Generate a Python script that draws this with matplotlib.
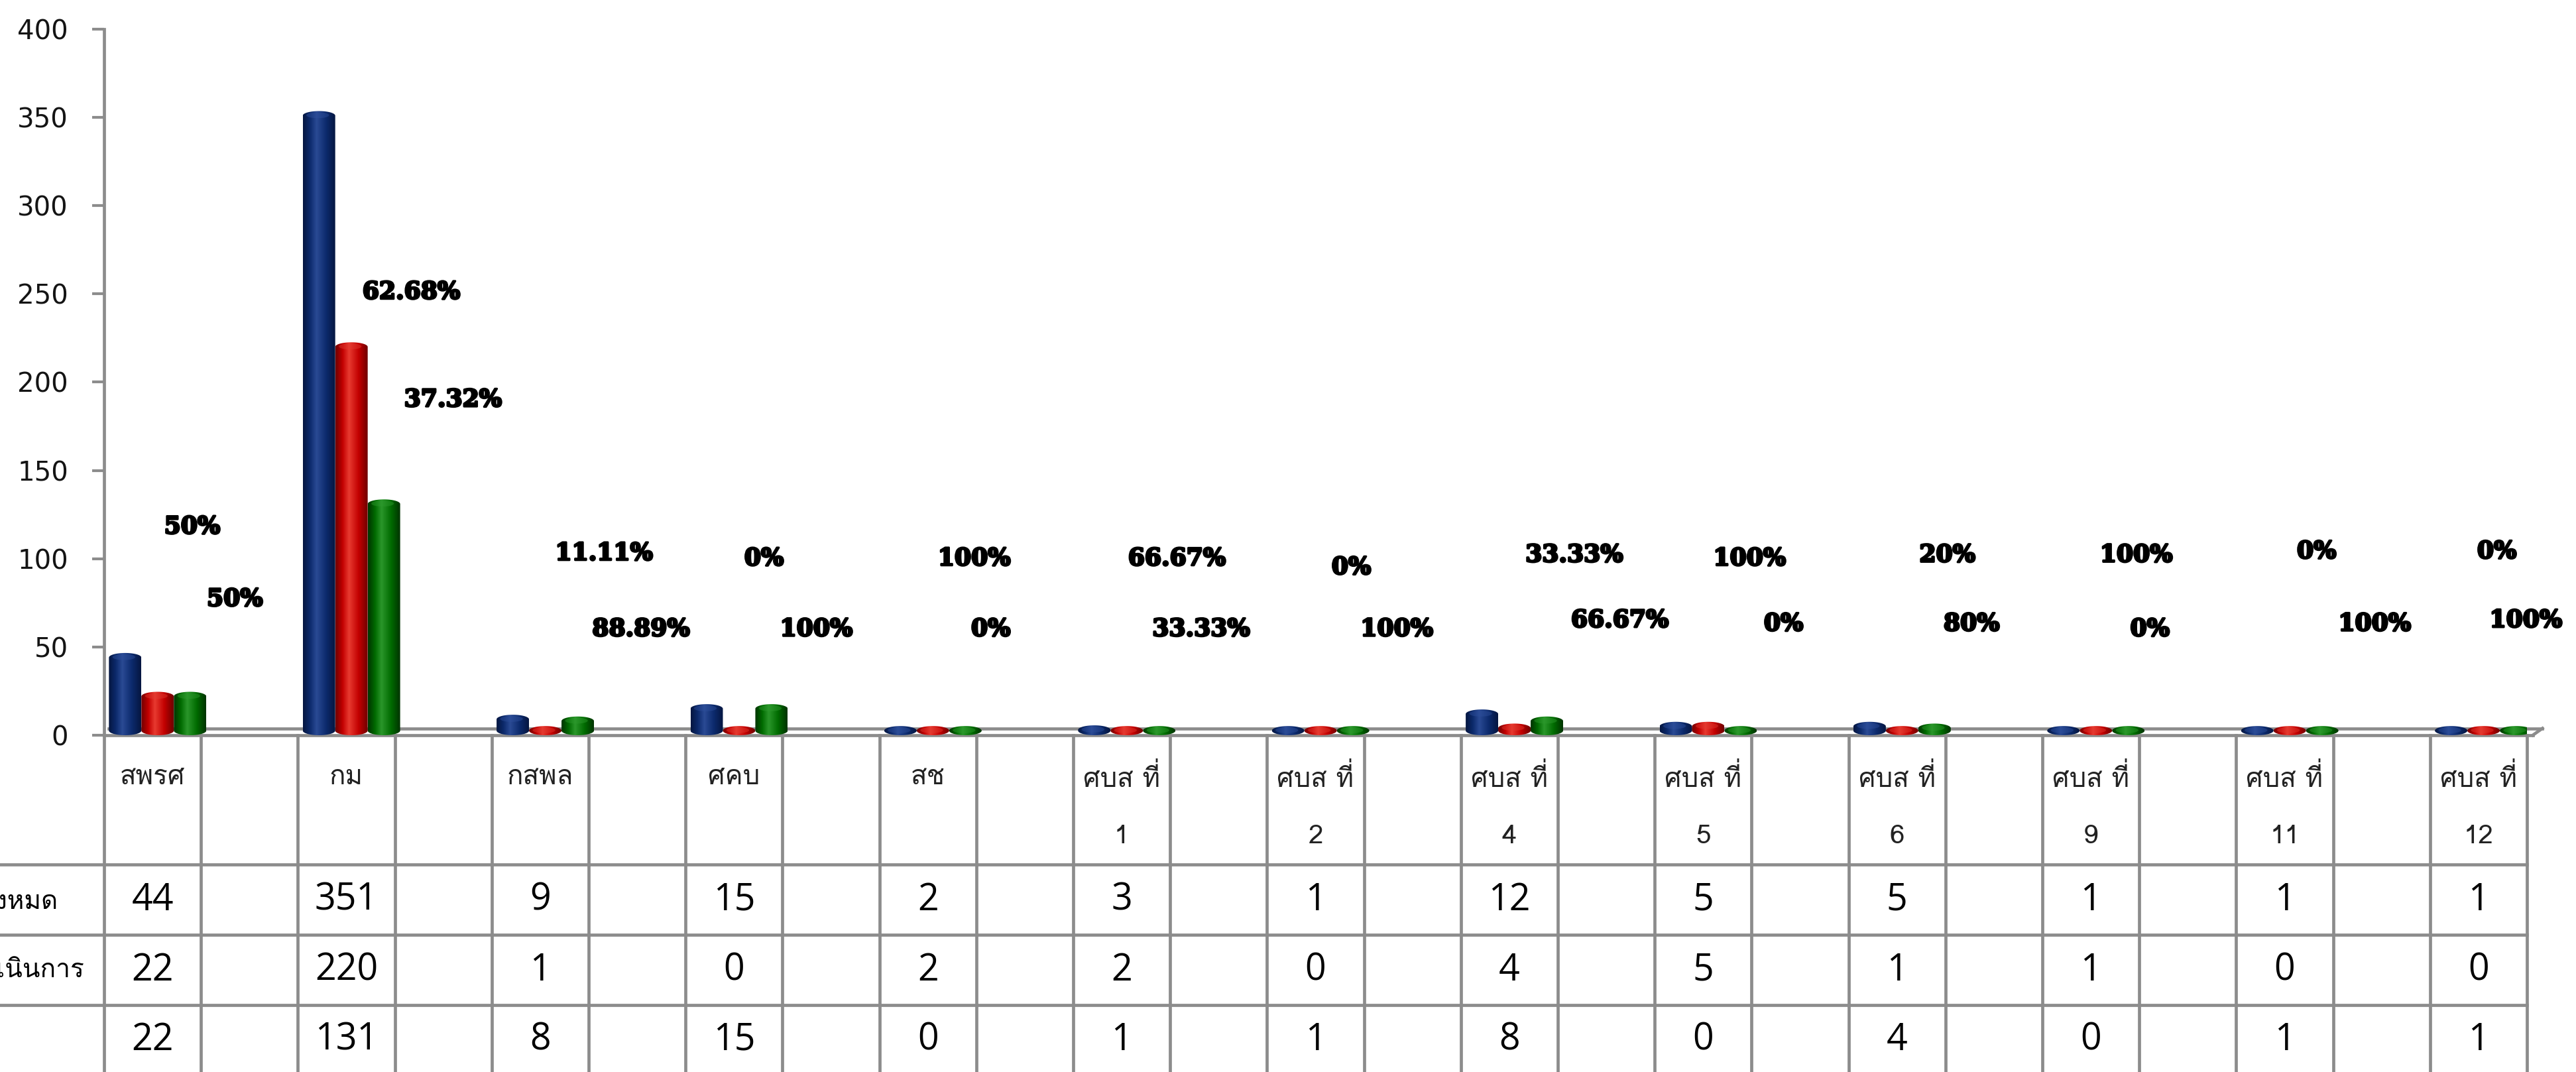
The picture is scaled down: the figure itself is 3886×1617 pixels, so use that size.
import numpy as np
import matplotlib
matplotlib.use("Agg")
import matplotlib.pyplot as plt
from matplotlib import font_manager, transforms
from matplotlib import patheffects as pe
from matplotlib.patches import PathPatch, Ellipse
from matplotlib.path import Path
from matplotlib.lines import Line2D
from matplotlib.colors import LinearSegmentedColormap
from matplotlib.ft2font import FT2Font

# ---------------- data ----------------
categories = ["สพรศ", "กม", "กสพล", "ศคบ", "สช", "ศบส ที่\n1", "ศบส ที่\n2",
              "ศบส ที่\n4", "ศบส ที่\n5", "ศบส ที่\n6", "ศบส ที่\n9",
              "ศบส ที่\n11", "ศบส ที่\n12"]
series_names = ["ทั้งหมด", "ดำเนินการ", ""]
total = [44, 351, 9, 15, 2, 3, 1, 12, 5, 5, 1, 1, 1]
done = [22, 220, 1, 0, 2, 2, 0, 4, 5, 1, 1, 0, 0]
remain = [22, 131, 8, 15, 0, 1, 1, 8, 0, 4, 0, 1, 1]
pct_done = ["50%", "62.68%", "11.11%", "0%", "100%", "66.67%", "0%",
            "33.33%", "100%", "20%", "100%", "0%", "0%"]
pct_remain = ["50%", "37.32%", "88.89%", "100%", "0%", "33.33%", "100%",
              "66.67%", "0%", "80%", "0%", "100%", "100%"]
yticks = [0, 50, 100, 150, 200, 250, 300, 350, 400]

# ---------------- layout (label placement, in column / value units) ----------------
done_lbl_pos = [(0.41, 118), (2.67, 251), (4.66, 103), (6.31, 100), (8.48, 100),
                (10.57, 100), (12.37, 95), (14.67, 102), (16.48, 100), (18.52, 102),
                (20.47, 102), (22.33, 104), (24.19, 104)]
remain_lbl_pos = [(0.85, 77), (3.10, 190), (5.04, 60), (6.85, 60), (8.65, 60),
                  (10.82, 60), (12.84, 60), (15.14, 65), (16.83, 63), (18.77, 63),
                  (20.61, 60), (22.93, 63), (24.49, 65)]

# ---------------- fonts ----------------
thai_found = []
for f in font_manager.fontManager.ttflist:
    if f.name in thai_found:
        continue
    try:
        cm = FT2Font(f.fname).get_charmap()
    except Exception:
        continue
    if 0x0E01 in cm and 0x0E2A in cm:
        thai_found.append(f.name)
pref = [n for n in ["Loma", "Noto Sans Thai", "Sarabun", "Anuphan"] if n in thai_found] + thai_found
THAI = [pref[0], "DejaVu Sans"] if pref else ["DejaVu Sans"]

W, H = 3887, 1617
fig = plt.figure(figsize=(W / 100, H / 100), dpi=100)
fig.patch.set_facecolor("white")
ax = fig.add_axes([157 / W, 1 - 1109 / H, (3812 - 157) / W, (1109 - 44) / H])
ax.set_xlim(-0.5, 24.5)
ax.set_ylim(0, 400)
GRAY = "#8c8c8c"

for sp in ["top", "right", "bottom"]:
    ax.spines[sp].set_visible(False)
ax.spines["left"].set_color(GRAY)
ax.spines["left"].set_linewidth(3.4)
ax.set_xticks([])
ax.set_yticks(yticks)
ax.set_yticklabels([str(t) for t in yticks], fontsize=29, family="DejaVu Sans", color="#141414")
ax.tick_params(axis="y", length=13, width=3, color=GRAY, pad=26)

# floor
ax.plot([-0.5, 24.56], [0, 0], color=GRAY, lw=3.4, clip_on=False, zorder=1)
ax.plot([-0.45, 24.66], [3.9, 3.9], color=GRAY, lw=3.4, clip_on=False, zorder=1)
ax.plot([24.56, 24.66], [0, 3.9], color=GRAY, lw=3.4, clip_on=False, zorder=1)

def make_cmap(dark, mid, light):
    return LinearSegmentedColormap.from_list(
        "c", [(0, dark), (0.22, mid), (0.42, light), (0.72, mid), (1, dark)])

cmaps = [make_cmap("#051640", "#0c2a6c", "#2a4a94"),
         make_cmap("#6e0000", "#c20000", "#e83a30"),
         make_cmap("#003300", "#006a00", "#2a962a")]
cap_colors = ["#2e4f9c", "#e03a30", "#2e9a2e"]

def draw_cylinder(xl, w, h, cmap, capc, cap=2.6):
    xc = xl + w / 2
    base = cap
    top = max(h, base)
    t1 = np.linspace(np.pi, 0, 50)
    t2 = np.linspace(0, -np.pi, 50)
    top_arc = np.column_stack([xc + w / 2 * np.cos(t1), top + cap * np.sin(t1)])
    bot_arc = np.column_stack([xc + w / 2 * np.cos(t2), base + cap * np.sin(t2)])
    verts = np.vstack([top_arc, bot_arc, top_arc[:1]])
    codes = [Path.MOVETO] + [Path.LINETO] * (len(verts) - 2) + [Path.CLOSEPOLY]
    patch = PathPatch(Path(verts, codes), facecolor="none", edgecolor="none")
    ax.add_patch(patch)
    grad = np.linspace(0, 1, 256).reshape(1, -1)
    im = ax.imshow(grad, cmap=cmap, extent=(xl, xl + w, base - cap, top + cap),
                   aspect="auto", origin="lower", interpolation="bilinear", zorder=2)
    im.set_clip_path(patch)
    e = Ellipse((xc - w * 0.04, top + cap * 0.1), w * 0.7, cap * 1.3,
                facecolor=capc, edgecolor="none", alpha=0.45, zorder=3)
    ax.add_patch(e)

bar_w = 0.335
offsets = [-0.45, -0.45 + bar_w, -0.45 + 2 * bar_w]
for s, vals in enumerate([total, done, remain]):
    for i, v in enumerate(vals):
        draw_cylinder(2 * i + offsets[s], bar_w, v, cmaps[s], cap_colors[s])

ax.set_xlim(-0.5, 24.5)
ax.set_ylim(0, 400)

# percentage labels
heavy = [pe.withStroke(linewidth=2.2, foreground="black")]
for labels, pos in [(pct_done, done_lbl_pos), (pct_remain, remain_lbl_pos)]:
    for s, (x, y) in zip(labels, pos):
        ax.text(x, y, s, ha="center", va="center", fontsize=26, fontweight="bold",
                family="DejaVu Serif", color="black", zorder=5, clip_on=False,
                path_effects=heavy)

# ---------------- data table ----------------
ncols = 2 * len(categories) - 1
btr = transforms.blended_transform_factory(ax.transData, fig.transFigure)
bot_axes = -(1 - 1109 / H) / ((1109 - 44) / H)
vtr = transforms.blended_transform_factory(ax.transData, ax.transAxes)
for k in range(ncols + 1):
    ax.add_line(Line2D([k - 0.5, k - 0.5], [0, bot_axes], transform=vtr,
                       color=GRAY, lw=3.4, clip_on=False, zorder=1))
right_fig = ax.transData.transform((ncols - 0.5, 0))[0] / W
for ypx in [1304, 1410, 1516]:
    fig.add_artist(Line2D([0, right_fig], [1 - ypx / H, 1 - ypx / H],
                          transform=fig.transFigure, color=GRAY, lw=3.4))

for i, cat in enumerate(categories):
    lines = cat.split("\n")
    for j, ln in enumerate(lines):
        ypx = [1173, 1262][j]
        ax.text(2 * i, 1 - ypx / H, ln, transform=btr, ha="center", va="center",
                fontsize=29, family=THAI, color="#222222", clip_on=False)

row_centers = [1358, 1464, 1569]
for r, vals in enumerate([total, done, remain]):
    for i, v in enumerate(vals):
        ax.text(2 * i, 1 - row_centers[r] / H, str(v), transform=btr, ha="center",
                va="center", fontsize=40, family="Open Sans", color="black", clip_on=False)

# row labels: the reference shows them cropped by the left edge of the image
row_label_right = [88, 127, 0]
for r, name in enumerate(series_names):
    if name:
        fig.text(row_label_right[r] / W, 1 - row_centers[r] / H, name, ha="right",
                 va="center", fontsize=28, family=THAI, color="black")

fig.savefig("out.png", dpi=100, facecolor="white")
